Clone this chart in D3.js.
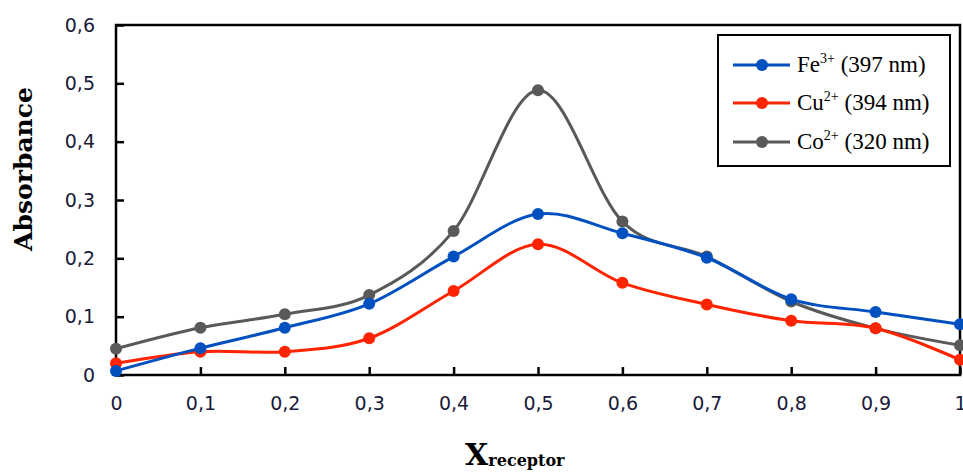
<!DOCTYPE html>
<html lang="en">
<head>
<meta charset="utf-8">
<title>Job plot absorbance</title>
<script src="https://cdn.jsdelivr.net/npm/d3@7"></script>
<style>
  body { margin: 0; background: #fff; }
  .tick line { stroke: #000; stroke-width: 2.5px; }
  .domain { display: none; }
  .ytitle, .xtitle { font-family: "DejaVu Serif", serif; font-weight: bold; fill: #000; }
  .leg { font-family: "Liberation Serif", serif; font-size: 23px; fill: #000; }
</style>
</head>
<body>
<svg id="chart" width="963" height="473"></svg>
<script>
// data
var xValues = [0, 0.1, 0.2, 0.3, 0.4, 0.5, 0.6, 0.7, 0.8, 0.9, 1];
var fe = [0.007, 0.046, 0.081, 0.122, 0.203, 0.276, 0.243, 0.201, 0.130, 0.108, 0.087];
var cu = [0.020, 0.040, 0.040, 0.063, 0.144, 0.224, 0.158, 0.121, 0.093, 0.080, 0.026];
var co = [0.045, 0.081, 0.104, 0.137, 0.247, 0.488, 0.263, 0.203, 0.126, 0.080, 0.051];
var seriesNames = ["Fe", "Cu", "Co"];
var seriesCharge = ["3+", "2+", "2+"];
var seriesWave = [" (397 nm)", " (394 nm)", " (320 nm)"];
var seriesColors = ["#0050c0", "#ff2400", "#595959"];
var yTicks = [0, 0.1, 0.2, 0.3, 0.4, 0.5, 0.6];
var xTicks = [0, 0.1, 0.2, 0.3, 0.4, 0.5, 0.6, 0.7, 0.8, 0.9, 1];

var svg = d3.select("#chart");
var mLeft = 116, mRight = 960, mTop = 25, mBottom = 375;

var x = d3.scaleLinear().domain([0, 1]).range([mLeft, mRight]);
var y = d3.scaleLinear().domain([0, 0.6]).range([mBottom, mTop]);
var fmt = function(d) { return String(d).replace(".", ","); };

var yAxisG = svg.append("g")
  .attr("transform", "translate(" + mLeft + ",0)")
  .call(d3.axisLeft(y).tickValues(yTicks).tickFormat(fmt).tickSizeInner(-8).tickSizeOuter(0).tickPadding(21));

var xAxisG = svg.append("g")
  .attr("transform", "translate(0," + mBottom + ")")
  .call(d3.axisBottom(x).tickValues(xTicks).tickFormat(fmt).tickSizeInner(-8).tickSizeOuter(0).tickPadding(22));

[yAxisG, xAxisG].forEach(function(g) {
  g.selectAll(".tick text")
    .attr("font-family", "DejaVu Sans, sans-serif")
    .attr("font-size", 19)
    .attr("fill", "#1a1a3a");
});

// frame
svg.append("rect")
  .attr("x", mLeft).attr("y", mTop)
  .attr("width", mRight - mLeft).attr("height", mBottom - mTop)
  .attr("fill", "none").attr("stroke", "#000").attr("stroke-width", 2.5);

var line = d3.line()
  .x(function(d, i) { return x(xValues[i]); })
  .y(function(d) { return y(d); })
  .curve(d3.curveCatmullRom.alpha(0));

var all = [fe, cu, co];
// gray first, then red, blue on top
[2, 1, 0].forEach(function(k) {
  var g = svg.append("g");
  g.append("path")
    .attr("d", line(all[k]))
    .attr("fill", "none")
    .attr("stroke", seriesColors[k])
    .attr("stroke-width", 3);
  g.selectAll("circle")
    .data(all[k])
    .enter().append("circle")
    .attr("cx", function(d, i) { return x(xValues[i]); })
    .attr("cy", function(d) { return y(d); })
    .attr("r", 6)
    .attr("fill", seriesColors[k]);
});

// titles
svg.append("text")
  .attr("class", "ytitle")
  .attr("transform", "translate(32,169) rotate(-90)")
  .attr("text-anchor", "middle")
  .attr("font-size", 25)
  .text("Absorbance");

var xt = svg.append("text")
  .attr("class", "xtitle")
  .attr("x", 465).attr("y", 465);
xt.append("tspan").attr("font-size", 30).text("X");
xt.append("tspan").attr("font-size", 16).attr("dy", 1).text("receptor");

// legend
var leg = svg.append("g");
leg.append("rect")
  .attr("x", 718).attr("y", 35).attr("width", 232).attr("height", 131)
  .attr("fill", "#fff").attr("stroke", "#000").attr("stroke-width", 2);

var rowY = [65, 103, 142];
seriesNames.forEach(function(name, i) {
  leg.append("line")
    .attr("x1", 733).attr("x2", 790).attr("y1", rowY[i]).attr("y2", rowY[i])
    .attr("stroke", seriesColors[i]).attr("stroke-width", 3);
  leg.append("circle")
    .attr("cx", 762).attr("cy", rowY[i]).attr("r", 6)
    .attr("fill", seriesColors[i]);
  var t = leg.append("text").attr("class", "leg")
    .attr("x", 797).attr("y", rowY[i] + 7);
  t.append("tspan").text(name);
  t.append("tspan").attr("font-size", 14).attr("dy", -9).text(seriesCharge[i]);
  t.append("tspan").attr("dy", 9).text(seriesWave[i]);
});
</script>
</body>
</html>
